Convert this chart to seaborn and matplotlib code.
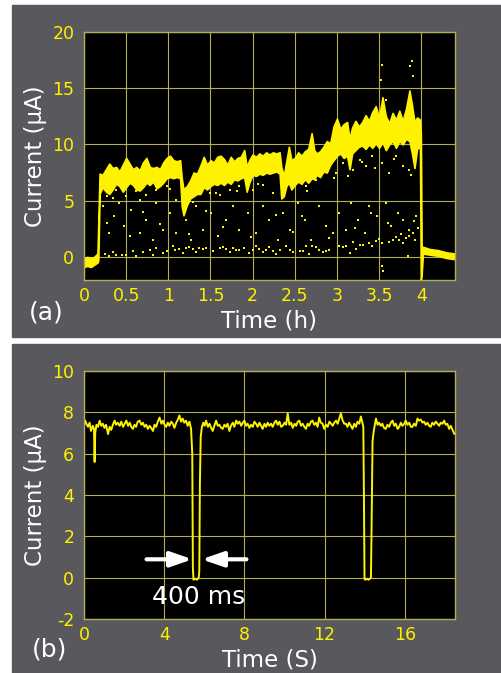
import matplotlib
matplotlib.use("Agg")
import matplotlib.pyplot as plt
from matplotlib.patches import Rectangle
import seaborn as sns

# dark oscilloscope-like look, set up by hand below
sns.set_style("dark")
plt.rcParams['font.family'] = ['DejaVu Sans']
plt.rcParams['axes.unicode_minus'] = False

YELLOW = "#fff200"
GRID = "#b3ad55"
PANEL = "#58585d"

# --- panel (a): long recording, band envelope ---
time_a = [0.00, 0.04, 0.08, 0.12, 0.16, 0.17, 0.185, 0.22, 0.26, 0.30, 0.34, 0.38, 0.42,
          0.46, 0.50, 0.54, 0.58, 0.62, 0.66, 0.70, 0.74, 0.78, 0.82, 0.86, 0.90, 0.94,
          0.98, 1.02, 1.06, 1.10, 1.14, 1.16, 1.18, 1.22, 1.26, 1.30, 1.34, 1.38, 1.42,
          1.46, 1.50, 1.54, 1.58, 1.62, 1.66, 1.70, 1.74, 1.78, 1.82, 1.86, 1.90, 1.93,
          1.96, 2.00, 2.04, 2.08, 2.12, 2.16, 2.20, 2.24, 2.28, 2.32, 2.34, 2.37, 2.40,
          2.43, 2.46, 2.50, 2.54, 2.58, 2.62, 2.66, 2.70, 2.73, 2.76, 2.80, 2.84, 2.88,
          2.92, 2.96, 3.00, 3.04, 3.08, 3.12, 3.15, 3.18, 3.22, 3.26, 3.30, 3.34, 3.38,
          3.42, 3.46, 3.50, 3.54, 3.58, 3.62, 3.66, 3.70, 3.74, 3.78, 3.82, 3.86, 3.89,
          3.92, 3.95, 3.985, 3.995, 4.005, 4.02, 4.10, 4.20, 4.30, 4.40]
low_a = [-0.9, -0.8, -0.9, -0.7, -0.5, -0.3, 5.6, 6.2, 5.8, 5.6, 6.0, 6.5, 6.3,
         5.8, 6.2, 6.6, 6.4, 6.0, 5.9, 6.2, 6.6, 6.4, 6.7, 6.1, 6.3, 6.6,
         7.0, 7.1, 7.0, 7.1, 7.0, 4.5, 3.7, 4.6, 5.2, 5.4, 5.6, 5.6, 6.2,
         6.0, 6.3, 6.5, 6.4, 6.6, 6.4, 6.7, 6.5, 6.9, 6.8, 7.0, 7.1, 5.8,
         6.6, 7.3, 7.2, 7.4, 7.3, 7.5, 7.4, 7.5, 7.6, 7.4, 5.2, 5.4, 6.3,
         6.6, 6.0, 6.4, 6.7, 6.5, 6.9, 6.6, 7.0, 6.9, 7.3, 7.1, 7.6, 7.5,
         8.2, 8.6, 9.0, 9.2, 8.8, 9.0, 7.8, 9.2, 9.5, 9.8, 9.9, 9.6, 10.0,
         9.7, 10.1, 9.7, 10.2, 9.5, 10.0, 10.3, 9.7, 10.3, 10.0, 10.5, 10.3, 9.2,
         7.9, 9.6, 9.8, -2.1, -1.5, 0.3, 0.2, 0.1, -0.1, -0.2]
high_a = [-0.1, 0.0, -0.1, 0.0, 0.3, 3.0, 7.4, 7.3, 7.8, 8.3, 7.9, 8.0, 7.6,
          8.2, 8.8, 8.3, 7.8, 8.0, 7.7, 8.4, 8.8, 8.0, 7.9, 8.0, 7.8, 8.4,
          8.8, 9.0, 8.6, 8.5, 8.6, 7.0, 6.0, 6.3, 6.8, 7.5, 7.4, 8.1, 8.9,
          8.2, 8.6, 8.4, 8.9, 9.0, 8.7, 8.2, 8.9, 8.5, 8.8, 8.9, 9.5, 8.0,
          8.6, 9.1, 8.9, 9.2, 9.0, 9.3, 9.1, 9.3, 9.2, 9.3, 8.0, 7.2, 8.5,
          9.8, 8.6, 8.8, 9.3, 9.0, 9.4, 9.6, 11.0, 9.5, 9.2, 9.4, 9.8, 10.3,
          10.1, 11.6, 12.3, 11.4, 11.8, 12.0, 10.5, 11.5, 12.1, 11.6, 12.0, 12.6, 12.1,
          12.9, 13.4, 12.4, 14.2, 12.5, 11.9, 12.8, 12.2, 13.0, 12.1, 13.2, 14.8, 13.5,
          12.0, 12.4, 12.2, 11.0, 0.3, 0.9, 0.7, 0.6, 0.4, 0.3]

# scattered samples below the band
dot_t = [0.30, 0.38, 0.50, 0.62, 0.78, 0.86, 0.94, 1.05, 1.13, 1.21, 1.29, 1.37, 1.45,
         1.61, 1.69, 1.77, 1.84, 2.00, 2.08, 2.16, 2.24, 2.32, 2.44, 2.56, 2.63, 2.71,
         2.79, 2.87, 3.03, 3.11, 3.15, 3.27, 3.38, 3.46, 3.54, 3.66, 3.74, 3.82, 3.90,
         3.84, 3.53, 3.55,
         0.25, 0.34, 0.45, 0.58, 0.70, 0.82, 0.98, 1.08, 1.17, 1.25, 1.33, 1.41, 1.53,
         1.65, 1.73, 1.80, 1.90, 1.96, 2.04, 2.12, 2.20, 2.28, 2.40, 2.48, 2.60, 2.67,
         2.75, 2.83, 2.91, 3.07, 3.19, 3.23, 3.31, 3.42, 3.50, 3.62, 3.70, 3.78, 3.86,
         3.93, 3.96,
         0.22, 0.30, 0.36, 0.42, 0.48, 0.56, 0.66, 0.74, 0.82, 0.86, 0.94, 1.02, 1.09,
         1.21, 1.27, 1.33, 1.41, 1.51, 1.59, 1.69, 1.77, 1.84, 1.94, 2.04, 2.12, 2.20,
         2.30, 2.36, 2.44, 2.54, 2.62, 2.69, 2.79, 2.87, 2.95, 3.03, 3.11, 3.17, 3.25,
         3.33, 3.38, 3.48, 3.58, 3.64, 3.72, 3.78, 3.86, 3.94,
         0.27, 0.54, 0.70, 0.90, 1.25, 1.45, 1.65, 1.98, 2.28, 2.48, 2.58, 2.91, 3.21,
         3.40, 3.60, 3.76, 3.92,
         0.19, 0.27, 0.38, 0.50, 0.62, 0.74, 0.86, 0.98, 1.09, 1.21, 1.37, 1.49, 1.61,
         1.73, 1.84, 2.00, 2.12, 2.24, 2.40, 2.52, 2.63, 2.75, 2.87, 2.99, 3.07, 3.19,
         3.27, 3.35, 3.42, 3.54, 3.62, 3.70, 3.78, 3.86, 3.94,
         0.34, 0.66, 1.02, 1.29, 1.57, 1.81, 2.06, 2.34, 2.64, 2.97, 3.13, 3.30, 3.45,
         3.68, 3.88,
         3.53, 3.89, 3.87, 3.90, 3.52, 3.58]
dot_i = [0.06, 0.21, 0.21, 0.12, 0.65, 0.80, 0.36, 0.95, 0.71, 0.80, 0.71, 0.80, 0.80,
         0.80, 0.71, 0.80, 0.65, 0.65, 0.71, 0.59, 0.50, 0.65, 0.65, 0.50, 0.95, 0.95,
         0.65, 0.50, 1.01, 0.95, 0.36, 1.10, 1.24, 1.39, 1.24, 1.54, 1.54, 1.69, 2.13,
         0.06, -0.83, -1.27,
         0.30, 0.45, 0.15, 0.55, 0.40, 0.20, 0.50, 0.60, 0.35, 0.90, 0.45, 0.70, 0.50,
         0.90, 0.40, 0.60, 0.75, 0.35, 0.95, 0.40, 0.85, 0.30, 0.95, 0.45, 0.55, 0.30,
         0.85, 0.40, 0.60, 0.85, 1.35, 0.70, 1.05, 0.95, 1.60, 1.30, 1.75, 1.20, 1.90,
         1.50, 2.60,
         4.50, 2.13, 3.61, 4.80, 2.73, 4.21, 2.13, 3.32, 1.54, 4.80, 2.43, 3.91, 2.13,
         3.32, 1.54, 4.50, 2.43, 3.91, 1.84, 3.32, 4.50, 2.43, 3.91, 2.13, 4.50, 3.32,
         1.54, 3.91, 2.43, 4.80, 3.32, 1.54, 4.50, 2.73, 2.13, 3.91, 2.43, 4.80, 3.32,
         2.13, 4.50, 3.61, 4.80, 2.73, 3.91, 3.32, 2.43, 3.61,
         3.00, 1.90, 4.00, 2.90, 2.00, 4.10, 2.70, 1.80, 3.70, 2.20, 3.60, 1.70, 2.60,
         3.90, 3.00, 2.00, 3.20,
         5.69, 5.39, 5.99, 5.39, 5.84, 5.54, 5.99, 6.28, 5.10, 5.39, 5.84, 5.69, 5.54,
         5.99, 6.28, 5.99, 6.43, 5.69, 6.28, 6.73, 6.28, 6.87, 8.06, 7.47, 8.36, 7.76,
         8.65, 8.06, 8.95, 8.36, 7.47, 8.95, 8.06, 7.76, 8.95,
         5.20, 5.10, 6.00, 4.90, 5.70, 5.90, 6.50, 6.60, 5.90, 7.00, 7.20, 8.40, 7.90,
         8.70, 7.30,
         17.10, 17.39, 16.95, 16.06, 15.76, 13.99]

# --- panel (b): 18 s zoom with two blockages ---
time_b = [0.00, 0.06, 0.12, 0.20, 0.28, 0.35, 0.44, 0.50, 0.53, 0.56, 0.62, 0.70, 0.78,
          0.86, 0.94, 1.02, 1.10, 1.20, 1.28, 1.36, 1.44, 1.53, 1.60, 1.68, 1.78, 1.86,
          1.95, 2.03, 2.11, 2.20, 2.28, 2.36, 2.44, 2.52, 2.60, 2.68, 2.77, 2.86, 2.94,
          3.02, 3.10, 3.19, 3.27, 3.35, 3.44, 3.52, 3.60, 3.68, 3.77, 3.86, 3.94, 4.02,
          4.10, 4.18, 4.26, 4.35, 4.43, 4.51, 4.60, 4.68, 4.76, 4.84, 4.92, 5.00, 5.09,
          5.17, 5.26, 5.34, 5.40, 5.43, 5.46, 5.55, 5.64, 5.72, 5.75, 5.78, 5.82, 5.88,
          5.95, 6.02, 6.09, 6.18, 6.26, 6.34, 6.42, 6.50, 6.59, 6.67, 6.75, 6.84, 6.92,
          7.00, 7.08, 7.16, 7.25, 7.33, 7.42, 7.50, 7.59, 7.67, 7.75, 7.84, 7.92, 8.00,
          8.08, 8.16, 8.25, 8.33, 8.42, 8.50, 8.58, 8.66, 8.75, 8.83, 8.91, 9.00, 9.08,
          9.16, 9.24, 9.33, 9.41, 9.50, 9.58, 9.66, 9.75, 9.83, 9.91, 10.00, 10.08, 10.16,
          10.24, 10.33, 10.41, 10.50, 10.58, 10.66, 10.74, 10.82, 10.90, 10.99, 11.07, 11.15,
          11.23, 11.32, 11.40, 11.48, 11.57, 11.65, 11.73, 11.81, 11.90, 11.98, 12.07, 12.15,
          12.24, 12.32, 12.40, 12.48, 12.57, 12.65, 12.73, 12.81, 12.90, 12.98, 13.06, 13.14,
          13.22, 13.31, 13.39, 13.48, 13.56, 13.64, 13.73, 13.81, 13.88, 13.93, 13.96, 13.99,
          14.02, 14.10, 14.18, 14.26, 14.31, 14.34, 14.39, 14.45, 14.56, 14.64, 14.72, 14.80,
          14.88, 14.96, 15.05, 15.13, 15.22, 15.30, 15.39, 15.47, 15.55, 15.64, 15.72, 15.80,
          15.88, 15.97, 16.05, 16.13, 16.22, 16.30, 16.38, 16.46, 16.55, 16.63, 16.71, 16.80,
          16.88, 16.96, 17.04, 17.13, 17.21, 17.29, 17.37, 17.46, 17.54, 17.63, 17.71, 17.79,
          17.88, 17.96, 18.04, 18.12, 18.21, 18.29, 18.38, 18.47]
current_b = [7.35, 7.6, 7.45, 7.3, 7.5, 7.1, 7.35, 7.2, 5.6, 7.0, 7.4, 7.3, 7.6,
             7.35, 7.45, 7.25, 7.4, 6.95, 7.3, 7.15, 7.4, 7.6, 7.4, 7.5, 7.35, 7.55,
             7.3, 7.45, 7.6, 7.35, 7.5, 7.3, 7.2, 7.4, 7.3, 7.55, 7.6, 7.4, 7.5,
             7.3, 7.4, 7.2, 7.35, 7.25, 7.1, 7.4, 7.3, 7.55, 7.75, 7.45, 7.6, 7.4,
             7.3, 7.5, 7.35, 7.55, 7.45, 7.25, 7.5, 7.65, 7.85, 7.55, 7.7, 7.5, 7.6,
             7.35, 7.55, 7.2, 6.0, 0.5, -0.1, -0.05, -0.1, 0.0, 0.3, 4.5, 6.8, 7.3,
             7.5, 7.35, 7.6, 7.3, 7.45, 7.25, 7.1, 7.35, 7.6, 7.35, 7.4, 7.25, 7.2,
             7.4, 7.3, 7.45, 7.1, 7.35, 7.5, 7.3, 7.6, 7.45, 7.55, 7.35, 7.5, 7.6,
             7.35, 7.45, 7.25, 7.4, 7.3, 7.55, 7.45, 7.3, 7.5, 7.35, 7.2, 7.45, 7.3,
             7.5, 7.35, 7.45, 7.3, 7.5, 7.6, 7.4, 7.55, 7.3, 7.35, 7.5, 7.4, 7.95,
             7.4, 7.5, 7.25, 7.45, 7.35, 7.55, 7.6, 7.35, 7.45, 7.3, 7.2, 7.45,
             7.35, 7.55, 7.6, 7.4, 7.5, 7.3, 7.75, 7.5, 7.45, 7.2, 7.4, 7.3,
             7.55, 7.45, 7.35, 7.5, 7.6, 7.45, 7.7, 7.95, 7.6, 7.45, 7.45, 7.3,
             7.5, 7.35, 7.2, 7.45, 7.3, 7.55, 7.45, 7.8, 7.5, 7.3, 4.0, -0.05,
             -0.1, -0.05, -0.1, -0.05, 0.0, 2.3, 6.6, 7.1, 7.7, 7.4, 7.5, 7.35,
             7.45, 7.25, 7.2, 7.4, 7.3, 7.5, 7.6, 7.35, 7.45, 7.2, 7.3, 7.5,
             7.35, 7.45, 7.6, 7.4, 7.5, 7.3, 7.3, 7.45, 7.35, 7.7, 7.6, 7.65,
             7.5, 7.55, 7.4, 7.5, 7.35, 7.3, 7.5, 7.4, 7.55, 7.45, 7.35, 7.5,
             7.45, 7.6, 7.4, 7.45, 7.2, 7.35, 7.15, 6.95]

# blockage width marker
arrow_left = (3.12, 5.41)
arrow_right = (8.10, 5.86)
arrow_level = 0.89


def style_axes(ax):
    ax.set_facecolor("black")
    for spine in ax.spines.values():
        spine.set_visible(True)
        spine.set_color(GRID)
        spine.set_linewidth(1.0)
    ax.grid(True, color=GRID, linewidth=0.8)
    ax.set_axisbelow(True)
    ax.tick_params(colors=YELLOW, labelsize=12.5, length=0)
    ax.tick_params(axis="y", pad=7)
    ax.tick_params(axis="x", pad=5)
    ax.xaxis.label.set_color("white")
    ax.yaxis.label.set_color("white")


fig = plt.figure(figsize=(5.02, 6.73), dpi=100, facecolor="white")
# grey panels behind the two plots
fig.patches.append(Rectangle((0.024, 0.4993), 0.976, 0.4933, transform=fig.transFigure,
                             color=PANEL, zorder=-10))
fig.patches.append(Rectangle((0.024, 0.0), 0.976, 0.4889, transform=fig.transFigure,
                             color=PANEL, zorder=-10))

ax_a = fig.add_axes([0.1673, 0.5840, 0.7390, 0.3685])
ax_b = fig.add_axes([0.1673, 0.0802, 0.7390, 0.3685])

# panel (a)
style_axes(ax_a)
ax_a.fill_between(time_a, low_a, high_a, color=YELLOW, linewidth=1.2, edgecolor=YELLOW)
sns.scatterplot(x=dot_t, y=dot_i, ax=ax_a, color=YELLOW, marker="s", s=4, linewidth=0)
ax_a.set_xlim(0, 4.4)
ax_a.set_ylim(-2.05, 20)
ax_a.set_xticks([0, 0.5, 1, 1.5, 2, 2.5, 3, 3.5, 4])
ax_a.set_xticklabels(["0", "0.5", "1", "1.5", "2", "2.5", "3", "3.5", "4"])
ax_a.set_yticks([0, 5, 10, 15, 20])
ax_a.set_xlabel("Time (h)", fontsize=16.5, labelpad=3)
ax_a.set_ylabel("Current (\u03bcA)", fontsize=16.5, labelpad=4)

# panel (b)
style_axes(ax_b)
sns.lineplot(x=time_b, y=current_b, ax=ax_b, color=YELLOW, linewidth=1.4,
             estimator=None, sort=False)
ax_b.set_xlim(0, 18.5)
ax_b.set_ylim(-2, 10)
ax_b.set_xticks([0, 4, 8, 12, 16])
ax_b.set_yticks([-2, 0, 2, 4, 6, 8, 10])
ax_b.set_xlabel("Time (S)", fontsize=16.5, labelpad=3)
ax_b.set_ylabel("Current (\u03bcA)", fontsize=16.5, labelpad=4)

arrow_props = dict(arrowstyle="-|>,head_length=1.3,head_width=0.45", color="white",
                   lw=3, shrinkA=0, shrinkB=0)
ax_b.annotate("", xy=(arrow_left[1], arrow_level), xytext=(arrow_left[0], arrow_level),
              arrowprops=arrow_props)
ax_b.annotate("", xy=(arrow_right[1], arrow_level), xytext=(arrow_right[0], arrow_level),
              arrowprops=arrow_props)
ax_b.text(5.7, -0.92, "400 ms", color="white", fontsize=18, ha="center", va="center")

# panel tags
fig.text(0.0916, 0.5364, "(a)", color="white", fontsize=18, ha="center", va="center")
fig.text(0.0996, 0.0342, "(b)", color="white", fontsize=18, ha="center", va="center")

fig.savefig("out.png", dpi=100, facecolor=fig.get_facecolor())
